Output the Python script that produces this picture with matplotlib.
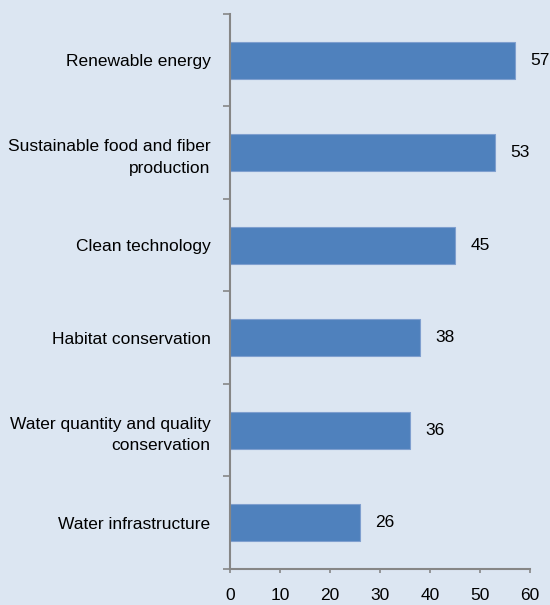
import numpy as np
import matplotlib.pyplot as plt

categorias = ["Renewable energy",
              "Sustainable food and fiber\nproduction",
              "Clean technology",
              "Habitat conservation",
              "Water quantity and quality\nconservation",
              "Water infrastructure"]
valores = [57, 53, 45, 38, 36, 26]
xticks = [0, 10, 20, 30, 40, 50, 60]

plt.rcParams['font.family'] = ['Liberation Sans', 'DejaVu Sans']
fondo = '#dce6f2'
gris = '#868686'
tam = 12.5

fig = plt.figure(figsize=(5.5, 6.05), dpi=100, facecolor=fondo)
ax = fig.add_axes([0.418, 0.0595, 0.5455, 0.9175])
ax.set_facecolor(fondo)

n = len(categorias)
pos = np.arange(n)[::-1]
ax.barh(pos, valores, height=0.4, color='#4f81bd', edgecolor='#7f9fcf', linewidth=0.8)

for p, v in zip(pos, valores):
    ax.annotate(str(v), (v, p), xytext=(11, 0), textcoords='offset points',
                va='center', ha='left', fontsize=tam)

ax.set_xlim(0, 60)
ax.set_ylim(-0.5, n - 0.5)
ax.set_xticks(xticks)
ax.set_xticklabels([str(t) for t in xticks], fontsize=tam)
ax.tick_params(axis='x', direction='out', length=3, width=1.2, color=gris, pad=11)

ax.set_yticks(np.arange(-0.5, n, 1.0))
ax.set_yticklabels([])
ax.tick_params(axis='y', which='major', direction='out', length=5, width=1.2, color=gris)
ax.set_yticks(pos, minor=True)
ax.set_yticklabels(categorias, minor=True, fontsize=tam, ha='right',
                   multialignment='right', linespacing=1.55)
ax.tick_params(axis='y', which='minor', length=0, pad=14)

for s in ['top', 'right']:
    ax.spines[s].set_visible(False)
for s in ['left', 'bottom']:
    ax.spines[s].set_color(gris)
    ax.spines[s].set_linewidth(1.5)

fig.savefig('out.png', dpi=100, facecolor=fondo)
